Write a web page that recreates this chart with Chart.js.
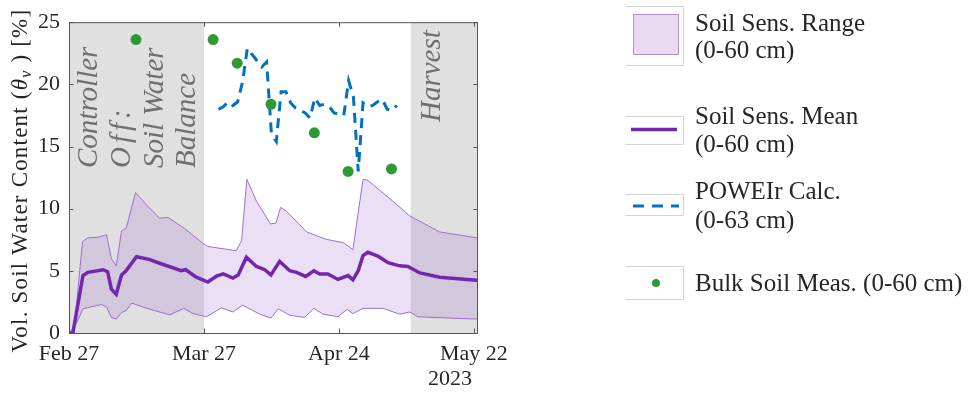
<!DOCTYPE html>
<html>
<head>
<meta charset="utf-8">
<script src="https://cdn.jsdelivr.net/npm/chart.js@4"></script>
<style>
  html, body { margin: 0; padding: 0; background: #fff; }
  canvas { display: block; }
</style>
</head>
<body>
<canvas id="soilChart" width="968" height="393"></canvas>
<script>
// x values are days after Feb 27, 2023
const tickDays = [0, 28, 56, 84];
const tickNames = ['Feb 27', 'Mar 27', 'Apr 24', 'May 22'];
const xMax = 84.85;
const offPeriod = [0, 28];       // controller off (soil water balance)
const harvestPeriod = [70.9, xMax];

// soil sensor range, upper edge
const upperDays = [0, 1.0, 2.8, 3.9, 6.0, 7.8, 8.8, 9.8, 10.9, 11.9, 13.8, 16.1, 18.8, 20.5, 24.0, 27.8, 28.8,
  34.7, 35.8, 36.9, 38.9, 41.8, 42.9, 43.9, 45.1, 49.3, 53.4, 56.9, 58.9, 60.0, 61.0, 62.0, 67.2, 70.7, 76.9, 84.5, 84.85];
const upperVals = [0, 0, 7.35, 7.66, 7.7, 7.9, 5.97, 5.4, 8.2, 8.47, 11.3, 10.3, 9.24, 9.3, 8.4, 7.2, 6.96,
  6.62, 7.43, 12.36, 10.6, 8.78, 8.83, 10.1, 9.8, 8.13, 7.53, 7.27, 6.7, 9.69, 12.36, 12.28, 10.6, 9.42, 8.13, 7.66, 7.65];

// soil sensor range, lower edge
const lowerDays = [0, 1.5, 2.9, 6.7, 7.8, 8.8, 9.8, 10.9, 11.9, 13.0, 16.1, 20.9, 23.8, 25.7, 28.5, 31.6, 34.0,
  36.0, 39.6, 41.9, 43.4, 45.8, 48.9, 50.8, 52.7, 55.8, 57.7, 58.9, 61.0, 65.2, 68.6, 70.7, 72.4, 84.5, 84.85];
const lowerVals = [0, 0.73, 1.95, 2.29, 2.08, 1.25, 1.12, 1.64, 1.82, 2.41, 1.98, 1.46, 1.98, 1.56, 1.30, 2.02, 1.69,
  2.24, 1.51, 1.2, 1.95, 1.43, 1.25, 1.98, 1.51, 1.32, 1.90, 1.56, 1.98, 1.98, 1.51, 1.69, 1.30, 1.12, 1.12];

// soil sensor mean
const meanDays = [0, 0.8, 2.9, 3.9, 7.1, 8.0, 8.8, 9.8, 10.9, 11.8, 14.0, 16.6, 18.8, 23.3, 24.2, 26.4, 28.8,
  30.6, 32.0, 34.0, 35.1, 36.8, 38.9, 40.6, 41.9, 43.7, 45.8, 47.2, 49.1, 50.8, 52.0, 53.7, 55.8, 57.9, 58.9,
  60.0, 61.0, 62.0, 64.1, 66.2, 68.6, 70.3, 72.8, 76.9, 84.5, 84.85];
const meanVals = [0, 0, 4.62, 4.88, 5.09, 4.93, 3.53, 3.12, 4.67, 4.98, 6.13, 5.92, 5.61, 5.01, 5.09, 4.49, 4.1,
  4.57, 4.75, 4.42, 4.67, 6.1, 5.35, 5.09, 4.67, 5.76, 5.01, 4.88, 4.55, 5.01, 4.75, 4.75, 4.31, 4.62, 4.28,
  5.01, 6.23, 6.49, 6.18, 5.66, 5.40, 5.35, 4.83, 4.49, 4.24, 4.23];

// POWEIr calculation (0-63 cm), daily from day 31
const calcDays = [31, 32, 33, 34, 35, 36, 37, 38, 39, 40, 41, 42, 43, 44, 45, 46, 47, 48, 49,
  50, 51, 52, 53, 54, 55, 56, 57, 58, 59, 60, 61, 62, 63, 64, 65, 66, 67, 68];
const calcVals = [18.0, 18.2, 18.6, 18.3, 18.6, 20.2, 22.9, 22.4, 21.9, 21.4, 21.8, 16.0, 15.4, 19.4, 19.4, 18.5, 18.1, 17.9, 17.7,
  17.3, 18.9, 18.3, 18.4, 18.2, 17.7, 17.6, 17.5, 20.3, 19.0, 13.0, 18.5, 18.2, 18.3, 18.6, 18.8, 18.0, 17.9, 18.3];

// bulk soil measurements
const bulkDays = [13.9, 29.9, 34.9, 41.9, 50.9, 57.9, 66.9];
const bulkVals = [23.6, 23.6, 21.7, 18.4, 16.1, 13.0, 13.2];

const FONT = '"Liberation Serif", "Times New Roman", serif';
const TEXT = '#262626';
const PURPLE = '#7227ae';
const EDGE = '#9d70cf';
const FILL = 'rgba(160, 110, 210, 0.22)';
const BLUE = '#0072bd';
const GREEN = '#2f9a33';

const pts = (xs, ys) => xs.map((d, i) => ({ x: d, y: ys[i] }));

const extras = {
  id: 'extras',
  beforeDatasetsDraw(chart) {
    const { ctx, chartArea: a, scales: { x } } = chart;
    ctx.save();
    ctx.fillStyle = '#e0e0e0';
    [offPeriod, harvestPeriod].forEach(([s, e]) => {
      const x0 = x.getPixelForValue(s), x1 = x.getPixelForValue(e);
      ctx.fillRect(x0, a.top, x1 - x0, a.bottom - a.top);
    });
    ctx.restore();
  },
  afterDatasetsDraw(chart) {
    const { ctx, chartArea: a, scales: { x, y } } = chart;
    ctx.save();
    // box and inward ticks
    ctx.strokeStyle = '#555';
    ctx.lineWidth = 1;
    ctx.strokeRect(a.left + 0.5, a.top + 0.5, a.right - a.left - 1, a.bottom - a.top);
    ctx.beginPath();
    tickDays.forEach(d => {
      const px = Math.round(x.getPixelForValue(d)) + 0.5;
      ctx.moveTo(px, a.bottom); ctx.lineTo(px, a.bottom - 4.5);
      ctx.moveTo(px, a.top); ctx.lineTo(px, a.top + 4.5);
    });
    [0, 5, 10, 15, 20, 25].forEach(v => {
      const py = Math.round(y.getPixelForValue(v)) + 0.5;
      ctx.moveTo(a.left, py); ctx.lineTo(a.left + 4.5, py);
      ctx.moveTo(a.right, py); ctx.lineTo(a.right - 4.5, py);
    });
    ctx.stroke();

    // rotated notes in the shaded periods
    ctx.fillStyle = '#6f6f6f';
    ctx.font = 'italic 29px ' + FONT;
    ctx.textAlign = 'left';
    ctx.textBaseline = 'alphabetic';
    const notes = [['Controller', 97], ['Off:', 130], ['Soil Water', 163], ['Balance', 195]];
    notes.forEach(([t, bx]) => {
      ctx.save();
      ctx.translate(bx, 168);
      ctx.rotate(-Math.PI / 2);
      if (t === 'Off:') ctx.letterSpacing = '4px';
      ctx.fillText(t, 0, 0);
      ctx.restore();
    });
    ctx.save();
    ctx.translate(440, 122);
    ctx.rotate(-Math.PI / 2);
    ctx.fillText('Harvest', 0, 0);
    ctx.restore();
    ctx.restore();
  },
  afterDraw(chart) {
    const { ctx, chartArea: a, scales: { x } } = chart;
    ctx.save();
    ctx.fillStyle = TEXT;

    // y axis title with subscript
    ctx.save();
    ctx.translate(27, (a.top + a.bottom) / 2 + 3);
    ctx.rotate(-Math.PI / 2);
    ctx.letterSpacing = '1.2px';
    const parts = [
      ['Vol. Soil Water Content (', '23px ' + FONT, 0],
      ['\u03B8', 'italic 23px ' + FONT, 0],
      ['v', 'italic 16px ' + FONT, 4],
      [' ) [%]', '23px ' + FONT, 0]
    ];
    let total = 0;
    parts.forEach(p => { ctx.font = p[1]; total += ctx.measureText(p[0]).width; });
    let cx = -total / 2;
    ctx.textBaseline = 'alphabetic';
    parts.forEach(p => { ctx.font = p[1]; ctx.fillText(p[0], cx, p[2]); cx += ctx.measureText(p[0]).width; });
    ctx.restore();

    // year under last tick
    ctx.font = '22px ' + FONT;
    ctx.textAlign = 'center';
    ctx.fillText('2023', x.getPixelForValue(84) - 24, 385);

    // legend
    const lx = 695;
    ctx.font = '25px ' + FONT;
    ctx.textAlign = 'left';
    const frame = (y0, y1) => {
      ctx.strokeStyle = '#d4d4d4';
      ctx.lineWidth = 1;
      ctx.beginPath();
      ctx.moveTo(626, y0 + 0.5); ctx.lineTo(683.5, y0 + 0.5); ctx.lineTo(683.5, y1 + 0.5); ctx.lineTo(626, y1 + 0.5);
      ctx.stroke();
    };
    frame(6, 65);
    ctx.fillStyle = '#ead9f3';
    ctx.fillRect(633, 14, 46, 41);
    ctx.strokeStyle = '#b48cd0';
    ctx.strokeRect(633.5, 14.5, 45, 40);
    ctx.fillStyle = TEXT;
    ctx.fillText('Soil Sens. Range', lx, 31);
    ctx.fillText('(0-60 cm)', lx, 58);

    frame(116, 144);
    ctx.strokeStyle = PURPLE;
    ctx.lineWidth = 3.5;
    ctx.beginPath(); ctx.moveTo(631, 129.5); ctx.lineTo(677, 129.5); ctx.stroke();
    ctx.fillText('Soil Sens. Mean', lx, 124);
    ctx.fillText('(0-60 cm)', lx, 152);

    frame(194, 215);
    ctx.strokeStyle = BLUE;
    ctx.lineWidth = 3;
    ctx.setLineDash([11, 8]);
    ctx.beginPath(); ctx.moveTo(633, 206); ctx.lineTo(679, 206); ctx.stroke();
    ctx.setLineDash([]);
    ctx.fillText('POWEIr Calc.', lx, 199);
    ctx.fillText('(0-63 cm)', lx, 228);

    frame(266, 299);
    ctx.fillStyle = GREEN;
    ctx.beginPath(); ctx.arc(656, 283, 4, 0, Math.PI * 2); ctx.fill();
    ctx.fillStyle = TEXT;
    ctx.fillText('Bulk Soil Meas. (0-60 cm)', lx, 291);
    ctx.restore();
  }
};

const ctx = document.getElementById('soilChart').getContext('2d');
const chart = new Chart(ctx, {
  type: 'line',
  data: {
    datasets: [
      {
        label: 'Bulk Soil Meas. (0-60 cm)',
        data: pts(bulkDays, bulkVals),
        showLine: false,
        pointRadius: 5.5,
        pointBackgroundColor: GREEN,
        pointBorderWidth: 0,
        order: 0
      },
      {
        label: 'Soil Sens. Mean (0-60 cm)',
        data: pts(meanDays, meanVals),
        borderColor: PURPLE,
        borderWidth: 3.5,
        pointRadius: 0,
        fill: false,
        order: 2
      },
      {
        label: 'POWEIr Calc. (0-63 cm)',
        data: pts(calcDays, calcVals),
        borderColor: BLUE,
        borderWidth: 3,
        borderDash: [10, 7],
        pointRadius: 0,
        fill: false,
        order: 1
      },
      {
        label: 'Soil Sens. Range upper',
        data: pts(upperDays, upperVals),
        borderColor: EDGE,
        borderWidth: 1,
        pointRadius: 0,
        backgroundColor: FILL,
        fill: 4,
        order: 3
      },
      {
        label: 'Soil Sens. Range lower',
        data: pts(lowerDays, lowerVals),
        borderColor: EDGE,
        borderWidth: 1,
        pointRadius: 0,
        fill: false,
        order: 3
      }
    ]
  },
  options: {
    responsive: false,
    animation: false,
    devicePixelRatio: 1,
    layout: { padding: { left: 0, right: 490, top: 11, bottom: 0 } },
    plugins: { legend: { display: false }, tooltip: { enabled: false } },
    elements: { line: { tension: 0 } },
    scales: {
      x: {
        type: 'linear',
        min: 0,
        max: xMax,
        grid: { display: false, drawTicks: false },
        border: { display: false },
        afterBuildTicks: s => { s.ticks = tickDays.map(v => ({ value: v })); },
        afterFit: s => { s.height = 60; },
        ticks: {
          autoSkip: false,
          maxRotation: 0,
          padding: 8,
          color: TEXT,
          font: { family: FONT, size: 22 },
          callback: v => tickNames[tickDays.indexOf(v)]
        }
      },
      y: {
        min: 0,
        max: 25,
        grid: { display: false, drawTicks: false },
        border: { display: false },
        afterFit: s => { s.width = 69; },
        ticks: {
          stepSize: 5,
          padding: 9,
          color: TEXT,
          font: { family: FONT, size: 22 }
        }
      }
    }
  },
  plugins: [extras]
});
</script>
</body>
</html>
